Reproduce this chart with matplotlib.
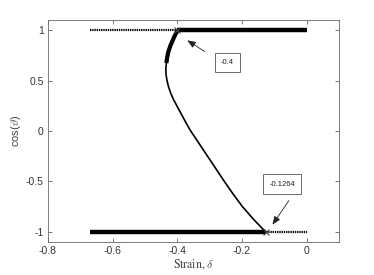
import matplotlib
matplotlib.use("Agg")
import matplotlib.pyplot as plt

plt.rcParams['mathtext.fontset'] = 'cm'
plt.rcParams['font.family'] = ['Liberation Sans', 'DejaVu Sans']

# thick branch of the curve near the top
thick_x = [-0.398, -0.406, -0.413, -0.420, -0.427, -0.431, -0.4335]
thick_y = [1.0, 0.955, 0.905, 0.855, 0.79, 0.73, 0.674]
# thin branch of the curve
thin_x = [-0.4335, -0.4350, -0.4345, -0.4315, -0.427, -0.420, -0.411, -0.401, -0.391,
          -0.380, -0.369, -0.358, -0.332, -0.306, -0.280, -0.254, -0.227, -0.198, -0.164, -0.1264]
thin_y = [0.674, 0.62, 0.56, 0.50, 0.44, 0.375, 0.31, 0.25, 0.19,
          0.125, 0.06, 0.0, -0.125, -0.25, -0.375, -0.5, -0.625, -0.75, -0.875, -1.0]

# horizontal branches
top_dot_x = [-0.67, -0.4]
top_thick_x = [-0.4, 0.0]
bot_thick_x = [-0.67, -0.1264]
bot_dot_x = [-0.1264, 0.0]

crit_x = [-0.4, -0.1264]
crit_y = [1.0, -1.0]
crit_labels = ['-0.4', '-0.1264']
label_pos = [(-0.245, 0.677), (-0.0755, -0.526)]
arrow_tail = [(-0.308, 0.773), (-0.0497, -0.667)]
arrow_head = [(-0.376, 0.914), (-0.110, -0.951)]

fig = plt.figure(figsize=(3.74, 2.75), dpi=100)
ax = fig.add_axes([0.128, 0.12, 0.778, 0.807])

ax.plot(top_dot_x, [1, 1], color='black', lw=1.6, dashes=(0.6, 0.4))
ax.plot(top_thick_x, [1, 1], color='black', lw=3.2, solid_capstyle='butt')
ax.plot(bot_thick_x, [-1, -1], color='black', lw=3.2, solid_capstyle='butt')
ax.plot(bot_dot_x, [-1, -1], color='black', lw=1.6, dashes=(0.6, 0.4))
ax.plot(thick_x, thick_y, color='black', lw=3.0, solid_capstyle='butt')
ax.plot(thin_x, thin_y, color='black', lw=1.2, solid_joinstyle='round')
ax.plot(crit_x, crit_y, 'x', color='#444444', ms=5, mew=0.8)

for lab, (tx, ty), (ax0, ay0), (hx, hy) in zip(crit_labels, label_pos, arrow_tail, arrow_head):
    ax.text(tx, ty, lab, fontsize=5.5, ha='center', va='center', color='#222222',
            bbox=dict(boxstyle='square,pad=0.8', fc='white', ec='#555555', lw=0.6))
    ax.annotate('', xy=(hx, hy), xytext=(ax0, ay0),
                arrowprops=dict(arrowstyle='-|>,head_length=0.5,head_width=0.2',
                                color='#222222', lw=0.6))

ax.set_xlim(-0.8, 0.1)
ax.set_ylim(-1.1, 1.1)
ax.set_xticks([-0.8, -0.6, -0.4, -0.2, 0])
ax.set_xticklabels(['-0.8', '-0.6', '-0.4', '-0.2', '0'])
ax.set_yticks([-1, -0.5, 0, 0.5, 1])
ax.set_yticklabels(['-1', '-0.5', '0', '0.5', '1'])
ax.tick_params(direction='in', top=True, right=True, length=3, width=0.5,
               colors='#444444', labelsize=7.5, labelcolor='#333333', pad=3)
for s in ax.spines.values():
    s.set_color('#666666')
    s.set_linewidth(0.6)

ax.set_xlabel(r'Strain, $\delta$', fontsize=8.5, family='STIXGeneral', color='#444444', labelpad=1)
ax.set_ylabel(r'cos($\vartheta$)', fontsize=8, color='#444444', labelpad=2)

fig.savefig('out.png', dpi=100)
